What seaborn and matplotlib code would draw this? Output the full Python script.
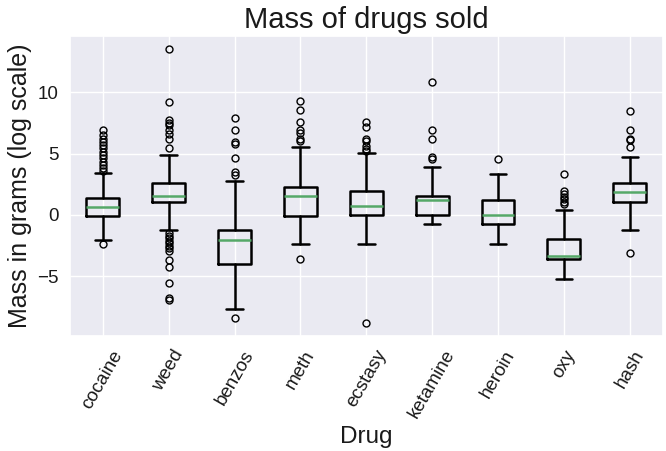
import matplotlib
matplotlib.use("Agg")
import matplotlib.pyplot as plt
import seaborn as sns

drugs = ["cocaine", "weed", "benzos", "meth", "ecstasy", "ketamine", "heroin", "oxy", "hash"]
q1 = [-0.05, 1.06, -3.98, -0.05, 0.0, 0.0, -0.74, -3.60, 1.06]
med = [0.68, 1.58, -2.07, 1.58, 0.76, 1.20, -0.03, -3.30, 1.91]
q3 = [1.39, 2.62, -1.23, 2.29, 1.99, 1.58, 1.23, -1.96, 2.62]
whislo = [-2.07, -1.22, -7.66, -2.34, -2.34, -0.71, -2.34, -5.18, -1.25]
whishi = [3.38, 4.89, 2.77, 5.53, 5.01, 3.90, 3.30, 0.41, 4.71]
fliers = [
    [-2.34, 6.93, 6.52, 6.19, 5.97, 5.70, 5.46, 5.16, 4.89, 4.65, 4.34, 4.07, 3.80, 3.55],
    [13.5, 9.18, 7.74, 7.52, 7.28, 6.93, 6.58, 6.17, 5.44,
     -1.5, -1.7, -1.9, -2.1, -2.3, -2.5, -2.7, -2.9, -3.67, -4.21, -5.49, -6.71, -6.93],
    [-8.37, 7.88, 6.93, 5.92, 5.76, 4.62, 3.48, 3.26],
    [-3.57, 9.24, 8.50, 7.57, 6.89, 6.68, 6.21, 6.05],
    [-8.77, 7.60, 7.14, 6.21, 5.99, 5.59, 5.40, 5.18],
    [10.84, 6.89, 6.19, 4.69, 4.58],
    [4.58],
    [3.34, 1.98, 1.68, 1.49, 1.30, 1.08, 0.87],
    [-3.05, 8.45, 6.89, 6.21, 6.08, 5.50],
]

sns.set_theme(style="darkgrid")
plt.rcParams["font.family"] = ["Liberation Sans", "DejaVu Sans"]

fig, ax = plt.subplots(figsize=(6.66, 4.51), dpi=100)
fig.subplots_adjust(left=0.105, right=0.995, top=0.92, bottom=0.255)

stats = []
for i, name in enumerate(drugs):
    stats.append(dict(label=name, q1=q1[i], med=med[i], q3=q3[i],
                      whislo=whislo[i], whishi=whishi[i], fliers=fliers[i]))

lw = 1.8
ax.bxp(stats, widths=0.5,
       boxprops=dict(color="black", linewidth=lw),
       whiskerprops=dict(color="black", linewidth=lw),
       capprops=dict(color="black", linewidth=lw),
       medianprops=dict(color="#55a868", linewidth=lw),
       flierprops=dict(marker="o", markerfacecolor="none", markeredgecolor="black",
                       markersize=5, markeredgewidth=1.0))

ax.set_ylim(-9.84, 14.55)
ax.set_xlim(0.5, 9.5)
ax.set_yticks([-5, 0, 5, 10])
ax.tick_params(axis="both", labelsize=13.5, colors="#1a1a1a", pad=2)
plt.setp(ax.get_xticklabels(), rotation=60)
ax.set_title("Mass of drugs sold", fontsize=21, color="#1a1a1a")
ax.set_xlabel("Drug", fontsize=17.5, color="#1a1a1a", labelpad=3)
ax.set_ylabel("Mass in grams (log scale)", fontsize=18, color="#1a1a1a")

fig.savefig("out.png", dpi=100)
